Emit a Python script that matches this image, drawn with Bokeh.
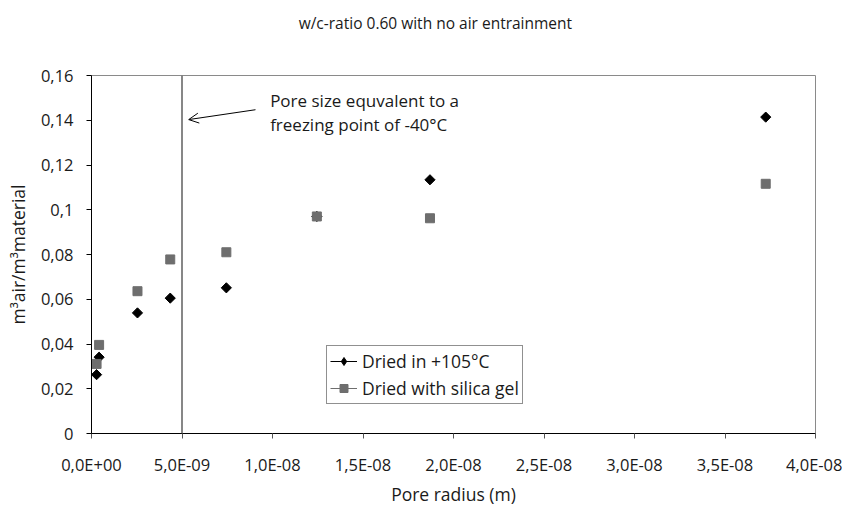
import math
from bokeh.plotting import figure
from bokeh.embed import file_html
from bokeh.resources import INLINE
from bokeh.models import (Range1d, FixedTicker, CustomJSTickFormatter, Span, Arrow,
                          OpenHead, Label, Legend, LegendItem, ColumnDataSource, LinearAxis)

# ---------------- data ----------------
pore_radius = [2.8e-10, 4.2e-10, 2.54e-9, 4.35e-9, 7.45e-9, 1.245e-8, 1.87e-8, 3.725e-8]
dried_105 = [0.0263, 0.0341, 0.0539, 0.0605, 0.0651, 0.0970, 0.1134, 0.1414]
dried_silica = [0.0311, 0.0396, 0.0636, 0.0778, 0.0810, 0.0970, 0.0962, 0.1116]

series_names = ["Dried in +105°C", "Dried with silica gel"]

x_ticks = [0.0, 5e-9, 1e-8, 1.5e-8, 2e-8, 2.5e-8, 3e-8, 3.5e-8, 4e-8]
x_tick_labels = ["0,0E+00", "5,0E-09", "1,0E-08", "1,5E-08", "2,0E-08",
                 "2,5E-08", "3,0E-08", "3,5E-08", "4,0E-08"]
y_ticks = [0.0, 0.02, 0.04, 0.06, 0.08, 0.1, 0.12, 0.14, 0.16]
y_tick_labels = ["0", "0,02", "0,04", "0,06", "0,08", "0,1", "0,12", "0,14", "0,16"]

freeze_radius = 5e-9
annotation_lines = ["Pore size equvalent to a", "freezing point of -40°C"]

title_text = "w/c-ratio 0.60 with no air entrainment"
x_label = "Pore radius (m)"
y_label = "m³air/m³material"

FONT = "Open Sans"
FS_LABEL = "17.5px"
FS_TICK = "16.5px"
NAN = float("nan")

TITLE_X = 1.9e-8  # horizontal anchor of the chart title (data units)

p = figure(title=None, frame_width=724, frame_height=358,
           min_border_left=91, min_border_right=27, min_border_top=75, min_border_bottom=40,
           x_range=Range1d(0, 4e-8), y_range=Range1d(0, 0.16),
           output_backend="svg", toolbar_location=None)

p.background_fill_color = "white"
p.border_fill_color = "white"
p.outline_line_color = "#8a8a8a"
p.outline_line_width = 1
p.xgrid.visible = False
p.ygrid.visible = False

fmt_code = """
let best = 0; let bd = Infinity;
for (let i = 0; i < tv.length; i++) {
  const d = Math.abs(tv[i] - tick);
  if (d < bd) { bd = d; best = i; }
}
return lbl[best];
"""

for ax, ticks, labels, lab in [(p.xaxis[0], x_ticks, x_tick_labels, x_label),
                               (p.yaxis[0], y_ticks, y_tick_labels, y_label)]:
    ax.ticker = FixedTicker(ticks=ticks)
    ax.formatter = CustomJSTickFormatter(args=dict(tv=ticks, lbl=labels), code=fmt_code)
    ax.axis_label = lab
    ax.axis_label_text_font = FONT
    ax.axis_label_text_font_size = FS_LABEL
    ax.axis_label_text_font_style = "normal"
    ax.axis_label_text_color = "#1a1a1a"
    ax.major_label_text_font = FONT
    ax.major_label_text_font_size = FS_TICK
    ax.major_label_text_color = "#1a1a1a"
    ax.minor_tick_line_color = None
    ax.major_tick_in = 0
    ax.major_tick_out = 5
    ax.axis_line_color = "black"
    ax.major_tick_line_color = "black"

p.xaxis.major_tick_line_color = "#555555"
p.xaxis.major_label_standoff = 14
p.xaxis.axis_label_standoff = 3
p.yaxis.major_label_standoff = 13
p.yaxis.axis_label_standoff = 8

# chart title: drawn as the single label of an otherwise invisible top axis
title_axis = LinearAxis(ticker=FixedTicker(ticks=[TITLE_X]),
                        formatter=CustomJSTickFormatter(args=dict(t=title_text), code="return t;"),
                        axis_line_color=None, major_tick_line_color=None,
                        minor_tick_line_color=None, major_tick_in=0, major_tick_out=0,
                        major_label_standoff=42, major_label_text_font=FONT,
                        major_label_text_font_size="15.5px", major_label_text_color="#1a1a1a")
p.add_layout(title_axis, "above")

# vertical marker line
p.add_layout(Span(location=freeze_radius, dimension="height",
                  line_color="#5f5f5f", line_width=1.5))

src = ColumnDataSource(dict(x=pore_radius, a=dried_105, b=dried_silica))

s1 = p.scatter("x", "a", source=src, marker="square", angle=math.pi / 4, size=7.2,
               fill_color="black", line_color="black")
s2 = p.scatter("x", "b", source=src, marker="square", size=9,
               fill_color="#6e6e6e", line_color="#6e6e6e")

# legend-only glyphs (single NaN point, nothing drawn in the plot)
l1 = p.line(x=[NAN], y=[NAN], line_color="black", line_width=1)
m1 = p.scatter(x=[NAN], y=[NAN], marker="diamond", fill_color="black", line_color="black")
l2 = p.line(x=[NAN], y=[NAN], line_color="#6e6e6e", line_width=1)

legend = Legend(items=[LegendItem(label=series_names[0], renderers=[l1, m1]),
                       LegendItem(label=series_names[1], renderers=[l2, s2])],
                location=(235, 29))
legend.label_text_font = FONT
legend.label_text_font_size = FS_LABEL
legend.label_text_color = "#1a1a1a"
legend.border_line_color = "#222222"
legend.border_line_width = 1
legend.background_fill_color = "white"
legend.background_fill_alpha = 1
legend.glyph_width = 27
legend.glyph_height = 20
legend.label_standoff = 5
legend.padding = 3
legend.spacing = 3
legend.margin = 0
legend.label_height = 20
p.add_layout(legend)

# annotation arrow + text
p.add_layout(Arrow(x_start=9.06e-9, y_start=0.1447, x_end=5.37e-9, y_end=0.1403,
                   line_color="black", line_width=1,
                   end=OpenHead(size=10, line_color="black", line_width=1)))
for txt, yv in zip(annotation_lines, [0.1488, 0.1380]):
    p.add_layout(Label(x=9.87e-9, y=yv, text=txt, text_font=FONT, text_font_size="17px",
                       text_color="#1a1a1a", text_baseline="middle", text_align="left"))

open("out.html", "w").write(file_html(p, INLINE))
